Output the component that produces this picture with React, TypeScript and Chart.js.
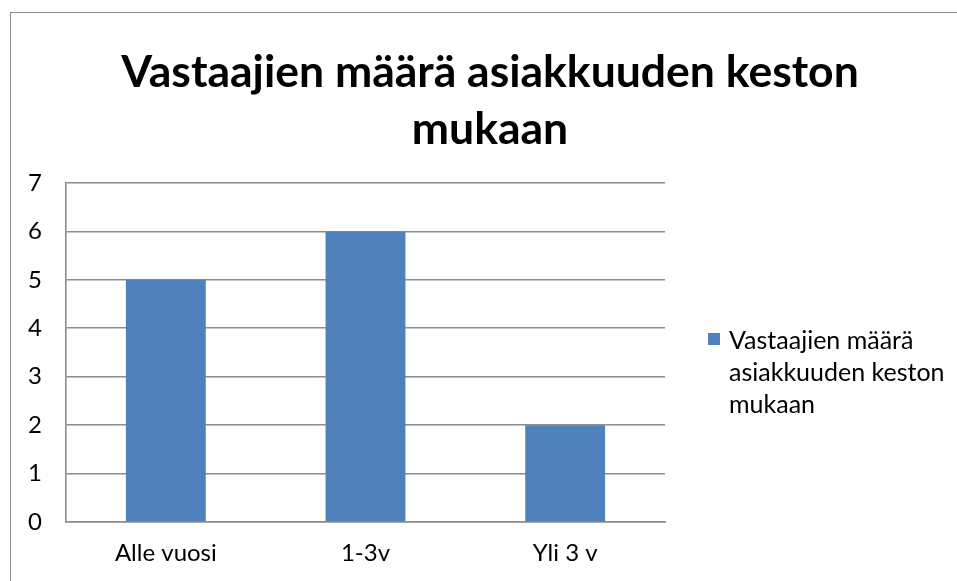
import React, { useEffect, useRef } from "react";
import { Chart, registerables } from "chart.js";

Chart.register(...registerables);

const categories = ["Alle vuosi", "1-3v", "Yli 3 v"];
const seriesLabel = "Vastaajien määrä asiakkuuden keston mukaan";
const seriesValues = [5, 6, 2];
const titleLines = ["Vastaajien määrä asiakkuuden keston", "mukaan"];
const yTicks = [0, 1, 2, 3, 4, 5, 6, 7];

const FONT = "Lato, 'Open Sans', sans-serif";
const BAR_COLOR = "#4F81BD";
const GRID_COLOR = "#8c8c8c";

export default function App() {
  const ref = useRef<HTMLCanvasElement | null>(null);

  useEffect(() => {
    document.body.style.margin = "0";
    const canvas = ref.current;
    if (!canvas) return;
    const chart = new Chart(canvas, {
      type: "bar",
      data: {
        labels: categories,
        datasets: [
          {
            label: seriesLabel,
            data: seriesValues,
            backgroundColor: BAR_COLOR,
            barPercentage: 0.4,
            categoryPercentage: 1,
          },
        ],
      },
      options: {
        animation: false,
        responsive: false,
        maintainAspectRatio: false,
        layout: { padding: { top: 183, left: 0, right: 292, bottom: 0 } },
        plugins: {
          legend: { display: false },
          tooltip: { enabled: false },
          title: { display: false },
        },
        scales: {
          x: {
            grid: { display: false, drawTicks: false },
            border: { display: true, color: GRID_COLOR, width: 1.6 },
            ticks: {
              color: "#000",
              font: { family: FONT, size: 24 },
              padding: 17,
              maxRotation: 0,
            },
            afterFit: (s: any) => {
              s.height = 59;
            },
          },
          y: {
            min: 0,
            max: 7,
            afterBuildTicks: (s: any) => {
              s.ticks = yTicks.map((v) => ({ value: v }));
            },
            grid: { color: GRID_COLOR, lineWidth: 1.6, drawTicks: false },
            border: { display: true, color: GRID_COLOR, width: 1.6 },
            ticks: {
              color: "#000",
              font: { family: FONT, size: 24 },
              padding: 24,
            },
            afterFit: (s: any) => {
              s.width = 66;
            },
          },
        },
      },
    });
    return () => chart.destroy();
  }, []);

  return (
    <div
      style={{
        position: "relative",
        width: 957,
        height: 581,
        overflow: "hidden",
        background: "#fff",
      }}
    >
      <div
        style={{
          position: "absolute",
          left: 10,
          top: 12,
          width: 1200,
          height: 1200,
          borderLeft: "1.5px solid #888",
          borderTop: "1.5px solid #888",
          boxSizing: "border-box",
        }}
      />
      <canvas
        ref={ref}
        width={957}
        height={581}
        style={{ position: "absolute", left: 0, top: 0 }}
      />
      <div
        style={{
          position: "absolute",
          left: 0,
          top: 41,
          width: 980,
          textAlign: "center",
          fontFamily: FONT,
          fontWeight: "bold",
          fontSize: 44.5,
          lineHeight: "57px",
          color: "#000",
          whiteSpace: "nowrap",
        }}
      >
        {titleLines.map((t, i) => (
          <div key={i}>{t}</div>
        ))}
      </div>
      <div
        style={{
          position: "absolute",
          left: 708,
          top: 333,
          width: 12,
          height: 12,
          background: BAR_COLOR,
        }}
      />
      <div
        style={{
          position: "absolute",
          left: 729,
          top: 323,
          width: 228,
          fontFamily: FONT,
          fontSize: 25,
          lineHeight: "32px",
          color: "#000",
        }}
      >
        {seriesLabel}
      </div>
    </div>
  );
}
